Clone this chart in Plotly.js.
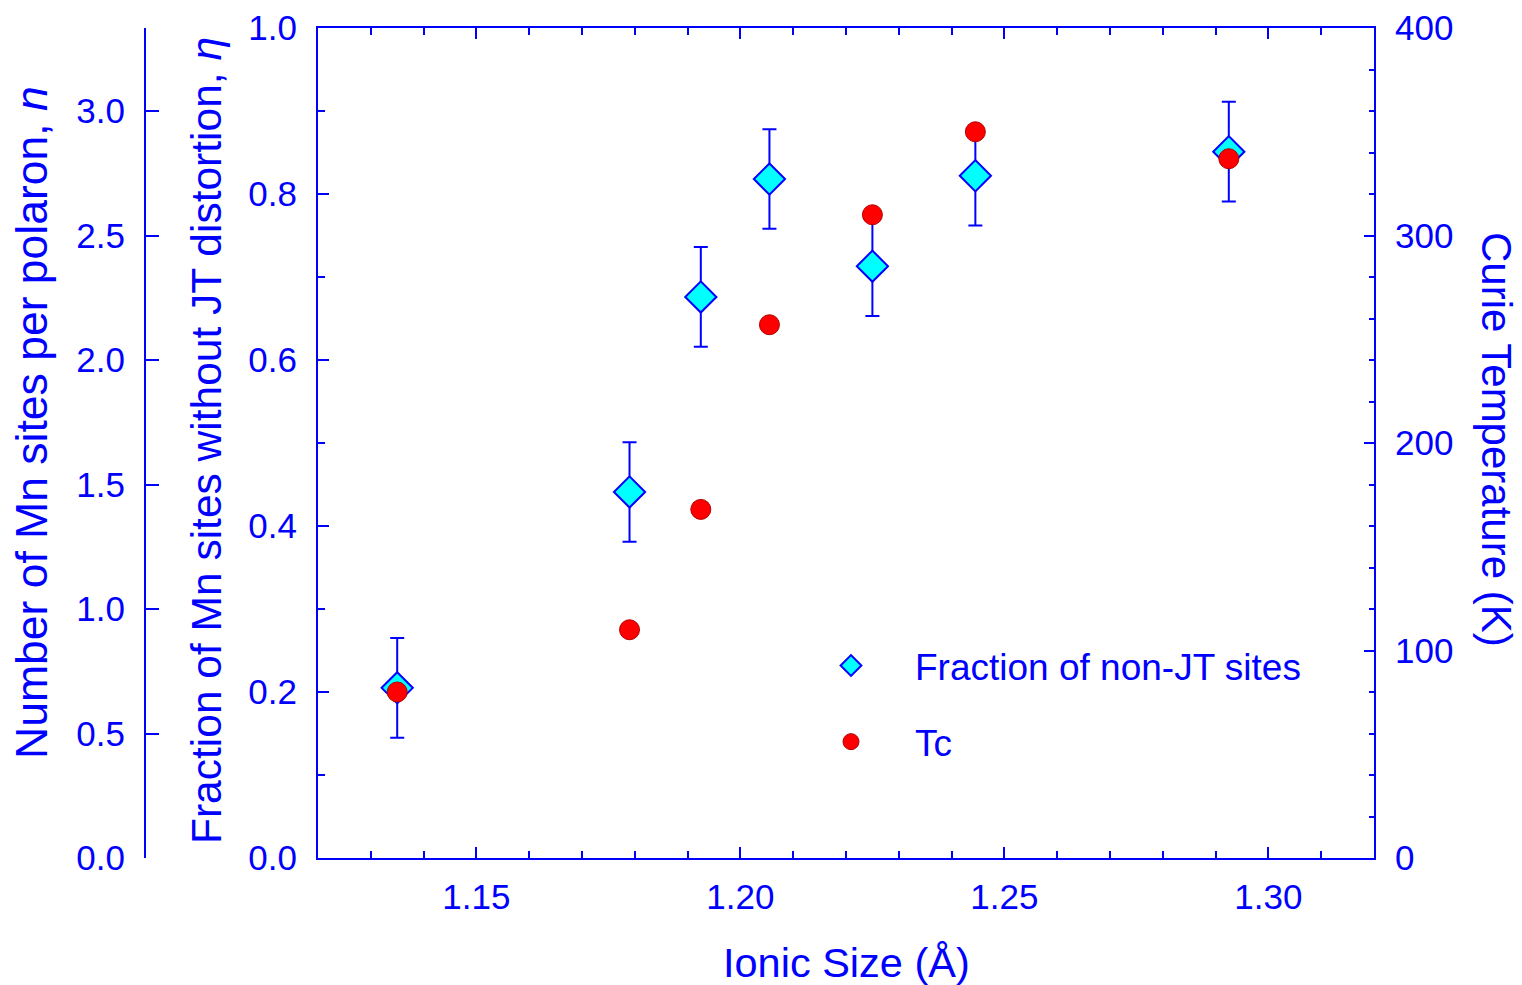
<!DOCTYPE html>
<html>
<head>
<meta charset="utf-8">
<script src="https://cdn.plot.ly/plotly-3.0.1.min.js"></script>
<style>html,body{margin:0;padding:0;background:#fff;}#chart{width:1522px;height:985px;}</style>
</head>
<body>
<div id="chart"></div>
<script>
// Ionic size (Å) of the A-site
const ionicSize = [1.135, 1.179, 1.1925, 1.2055, 1.225, 1.2445, 1.2925];
// Fraction of Mn sites without JT distortion, eta
const etaFraction = [0.205, 0.441, 0.676, 0.818, 0.713, 0.822, 0.851];
const etaError = [0.06, 0.06, 0.06, 0.06, 0.06, 0.06, 0.06];
// Curie temperature (K)
const curieTc = [80, 110, 168, 257, 310, 350, 337];
// Hole doping used to link eta and n (eta = x * n)
const holeDoping = 0.3;
// Legend names
const seriesNames = ["Fraction of non-JT sites", "Tc"];
// Axis titles
const xTitle = "Ionic Size (Å)";
const etaTitle = "Fraction of Mn sites without JT distortion, <i>η</i>";
const nTitle = "Number of Mn sites per polaron, <i>n</i>";
const tcTitle = "Curie Temperature (K)";

const BLUE = "#0000ff";
const FONT = "Liberation Sans, Arial, sans-serif";
const W = 1522, H = 985;
const L = 318, R = 1374, T = 28, B = 858;

const nPerPolaron = etaFraction.map(v => v / holeDoping);

const traces = [
  {
    x: ionicSize, y: etaFraction, type: "scatter", mode: "markers",
    name: seriesNames[0], legendgroup: "g1", xaxis: "x", yaxis: "y",
    marker: {symbol: "diamond", size: 24, color: "#00ffff", line: {color: BLUE, width: 2}},
    error_y: {type: "data", array: etaError, visible: true, color: BLUE, thickness: 2, width: 7},
    hoverinfo: "x+y"
  },
  {
    // same points expressed on the n axis (keeps that axis drawn); transparent
    x: ionicSize, y: nPerPolaron, type: "scatter", mode: "markers",
    name: "n", showlegend: false, xaxis: "x", yaxis: "y3",
    marker: {size: 1, opacity: 0}, hoverinfo: "skip"
  },
  {
    x: ionicSize, y: curieTc, type: "scatter", mode: "markers",
    name: seriesNames[1], legendgroup: "g2", xaxis: "x", yaxis: "y2",
    marker: {symbol: "circle", size: 20, color: "#ff0000", line: {color: "#b00000", width: 1}},
    hoverinfo: "x+y"
  }
];

const tickFont = {family: FONT, size: 35, color: BLUE};
const titleFont = (s) => ({family: FONT, size: s, color: BLUE});

const layout = {
  width: W, height: H,
  margin: {l: 0, r: 0, t: T, b: H - B, pad: 0},
  paper_bgcolor: "#fff", plot_bgcolor: "#fff",
  showlegend: true,
  legend: {
    x: 787 / W, xanchor: "left",
    y: (B - 635) / (B - T), yanchor: "top",
    font: {family: FONT, size: 37, color: BLUE},
    bgcolor: "rgba(0,0,0,0)", borderwidth: 0,
    itemwidth: 118, tracegroupgap: 25, traceorder: "grouped"
  },
  xaxis: {
    domain: [L / W, R / W], range: [1.12, 1.32],
    tick0: 1.15, dtick: 0.05, tickformat: ".2f",
    ticks: "inside", ticklen: 11, tickwidth: 2, tickcolor: BLUE,
    minor: {dtick: 0.01, ticks: "inside", ticklen: 7, tickwidth: 2, tickcolor: BLUE, showgrid: false},
    showline: true, linecolor: BLUE, linewidth: 2, mirror: "ticks",
    showgrid: false, zeroline: false, tickfont: tickFont,
    ticklabelstandoff: 7
  },
  yaxis: {
    range: [0, 1], tick0: 0, dtick: 0.2, tickformat: ".1f",
    ticks: "inside", ticklen: 11, tickwidth: 2, tickcolor: BLUE,
    minor: {dtick: 0.1, ticks: "inside", ticklen: 7, tickwidth: 2, tickcolor: BLUE, showgrid: false},
    showline: true, linecolor: BLUE, linewidth: 2, mirror: false,
    showgrid: false, zeroline: false, tickfont: tickFont,
    ticklabelstandoff: 12
  },
  yaxis2: {
    overlaying: "y", side: "right", anchor: "x",
    range: [0, 400], tick0: 0, dtick: 100,
    ticks: "inside", ticklen: 10, tickwidth: 2, tickcolor: BLUE,
    minor: {dtick: 20, ticks: "inside", ticklen: 5, tickwidth: 2, tickcolor: BLUE, showgrid: false},
    showline: true, linecolor: BLUE, linewidth: 2,
    showgrid: false, zeroline: false, tickfont: tickFont,
    ticklabelstandoff: 12
  },
  yaxis3: {
    overlaying: "y", side: "left", anchor: "free", position: 145 / W,
    range: [0, 10 / 3], tick0: 0, dtick: 0.5, tickformat: ".1f",
    ticks: "inside", ticklen: 13, tickwidth: 2, tickcolor: BLUE,
    showline: true, linecolor: BLUE, linewidth: 2,
    showgrid: false, zeroline: false, tickfont: tickFont,
    ticklabelstandoff: 12
  },
  annotations: [
    {text: xTitle, xref: "paper", yref: "paper", x: 846 / W, y: (B - 962) / (B - T),
     xanchor: "center", yanchor: "middle", showarrow: false, font: titleFont(41.5)},
    {text: etaTitle, xref: "paper", yref: "paper", x: 206 / W, y: (B - 441) / (B - T),
     xanchor: "center", yanchor: "middle", showarrow: false, textangle: -90, font: titleFont(42.5)},
    {text: nTitle, xref: "paper", yref: "paper", x: 31 / W, y: (B - 423) / (B - T),
     xanchor: "center", yanchor: "middle", showarrow: false, textangle: -90, font: titleFont(44.5)},
    {text: tcTitle, xref: "paper", yref: "paper", x: 1496 / W, y: (B - 439) / (B - T),
     xanchor: "center", yanchor: "middle", showarrow: false, textangle: 90, font: titleFont(42)}
  ]
};

Plotly.newPlot("chart", traces, layout, {displayModeBar: false, staticPlot: true});
</script>
</body>
</html>
